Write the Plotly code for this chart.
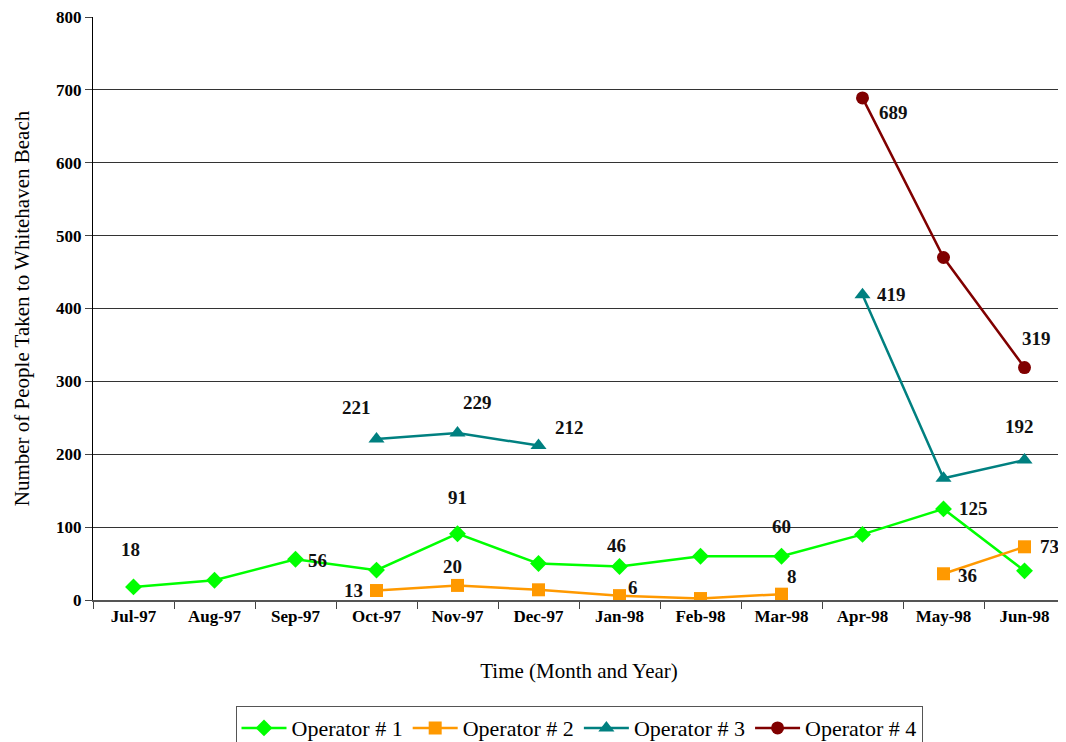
import plotly.graph_objects as go

months = ["Jul-97", "Aug-97", "Sep-97", "Oct-97", "Nov-97", "Dec-97",
          "Jan-98", "Feb-98", "Mar-98", "Apr-98", "May-98", "Jun-98"]
y_ticks = [0, 100, 200, 300, 400, 500, 600, 700, 800]

op1 = [18, 27, 56, 41, 91, 50, 46, 60, 60, 90, 125, 40]
op2 = [None, None, None, 13, 20, 14, 6, 2, 8, None, 36, 73]
op3 = [None, None, None, 221, 229, 212, None, None, None, 419, 167, 192]
op4 = [None, None, None, None, None, None, None, None, None, 689, 470, 319]

names = ["Operator # 1", "Operator # 2", "Operator # 3", "Operator # 4"]
colors = ["#00FF00", "#FF9900", "#008080", "#800000"]
symbols = ["diamond", "square", "triangle-up", "circle"]
series = [op1, op2, op3, op4]

# which points carry a value label, and where the label sits (xshift, yshift)
labels = [
    (0, 0, -3, 37), (0, 2, 22, -1), (0, 4, 0, 36), (0, 6, -3, 21), (0, 8, 0, 30), (0, 10, 30, 0),
    (1, 3, -23, 0), (1, 4, -5, 19), (1, 6, 13, 8), (1, 8, 10, 18), (1, 10, 24, -2), (1, 11, 25, 0),
    (2, 3, -20, 31), (2, 4, 20, 31), (2, 5, 31, 18), (2, 9, 29, 0), (2, 11, -5, 34),
    (3, 9, 31, -15), (3, 11, 12, 29),
]

serif = "Liberation Serif"

fig = go.Figure()
for vals, name, col, sym in zip(series, names, colors, symbols):
    fig.add_trace(go.Scatter(
        x=months, y=vals, name=name, mode="lines+markers",
        line=dict(color=col, width=2.5),
        marker=dict(symbol=sym, size=13 if sym != "triangle-up" else 14, color=col),
        connectgaps=False,
    ))

for s, i, dx, dy in labels:
    fig.add_annotation(
        x=months[i], y=series[s][i], text="<b>%d</b>" % series[s][i], showarrow=False,
        xshift=dx, yshift=dy, font=dict(family=serif, size=19, color="#111111"),
    )

# the page body has an 8px margin, so the figure is 8px smaller and margins shifted
fig.update_layout(
    width=1058, height=734,
    margin=dict(l=85, r=1, t=9, b=142, autoexpand=False),
    plot_bgcolor="white", paper_bgcolor="white",
    font=dict(family=serif, color="black"),
    showlegend=True,
    legend=dict(
        orientation="h", x=0.5, xanchor="center", y=-0.182, yanchor="top",
        font=dict(family=serif, size=22), bordercolor="#555555", borderwidth=1,
        itemwidth=45, tracegroupgap=0,
    ),
)
fig.update_xaxes(
    type="category", tickson="boundaries", ticks="outside", ticklen=7,
    tickcolor="#444444", showline=True, linecolor="#555555", linewidth=2,
    showgrid=False, range=[-0.5, 11.5], automargin=False,
    tickmode="array", tickvals=months, ticktext=["<b>%s</b>" % m for m in months],
    tickfont=dict(family=serif, size=17),
    title=dict(text="Time (Month and Year)", font=dict(family=serif, size=21), standoff=38),
)
fig.update_yaxes(
    range=[0, 800], ticks="outside", ticklen=7, tickcolor="#444444",
    showline=True, linecolor="black", linewidth=1, automargin=False,
    ticklabeloverflow="allow",
    tickmode="array", tickvals=y_ticks, ticktext=["<b>%d</b>" % v for v in y_ticks],
    showgrid=True, gridcolor="#333333", gridwidth=1, zeroline=False,
    tickfont=dict(family=serif, size=17),
    title=dict(text="Number of People Taken to Whitehaven Beach",
               font=dict(family=serif, size=21), standoff=20),
)

fig.write_html("out.html")
